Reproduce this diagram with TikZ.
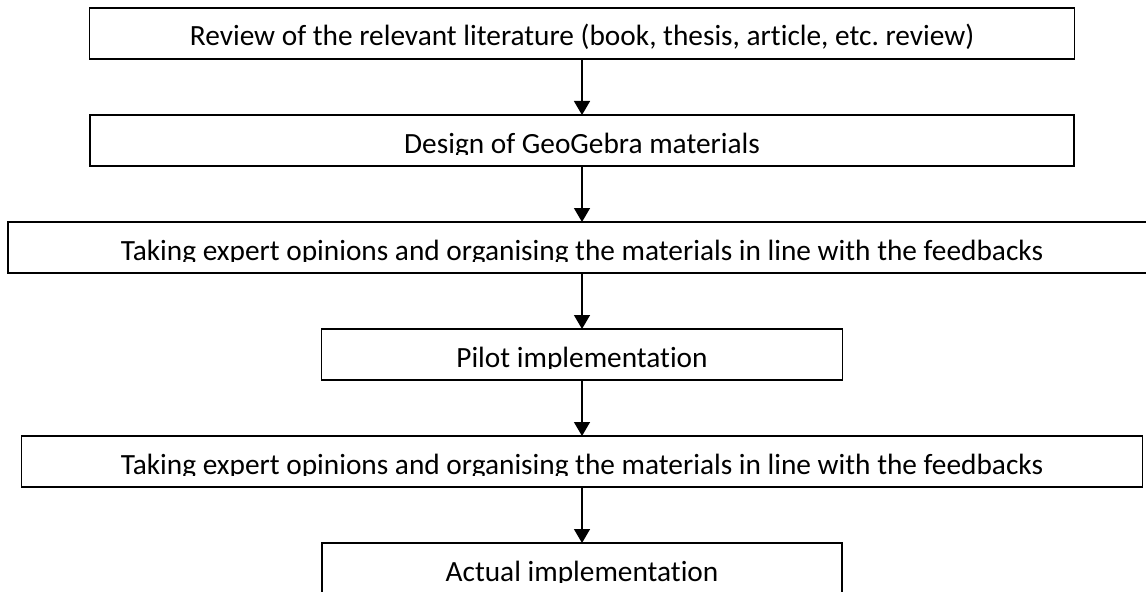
\documentclass[tikz,border=0pt]{standalone}
\usepackage{fontspec}
\setmainfont{Carlito}[Ligatures=NoCommon]
\usetikzlibrary{positioning}
\usetikzlibrary{arrows.meta}
\frenchspacing

% text sits low in its box and is cut at the baseline
\newcommand{\cuttext}[2]{%
	\begin{scope}
		\clip (#1.north west) rectangle ([yshift=-29.5pt]#1.north east);
		\node[anchor=base] (#1t) at ([yshift=-28.5pt]#1.north) {#2};
	\end{scope}}

\begin{document}
\begin{tikzpicture}[x=0.75pt,y=0.75pt,node distance=42pt,
		stage/.style={draw,line width=1.1pt,inner sep=0pt,outer sep=0pt,minimum height=38.25pt},
		>={Triangle[width=12pt,length=10.5pt]},
		font=\fontsize{22}{26}\selectfont]
			\useasboundingbox (0,0) rectangle (1146,-592);
			
			% boxes
			
			\node[stage,minimum width=738.75pt] (b1) at (582,-33.5) {};
			\node[stage,minimum width=738pt,below=of b1] (b2) {};
			\node[stage,minimum width=861pt,below=of b2] (b3) {};
			\node[stage,minimum width=390.75pt,below=of b3] (b4) {};
			\node[stage,minimum width=840.75pt,below=of b4] (b5) {};
			\node[stage,minimum width=390pt,below=of b5] (b6) {};
			
			% texts
			
			\node[anchor=base] (b1t) at ([yshift=-28.5pt]b1.north) {Review of the relevant literature (book, thesis, article, etc. review)};
			\cuttext{b2}{Design of GeoGebra materials}
			\cuttext{b3}{Taking expert opinions and organising the materials in line with the feedbacks}
			\cuttext{b4}{Pilot implementation}
			\cuttext{b5}{Taking expert opinions and organising the materials in line with the feedbacks}
			\cuttext{b6}{Actual implementation}
			
			\foreach \a/\b in {b1/b2,b2/b3,b3/b4,b4/b5,b5/b6} {
				\draw[->,line width=1.1pt] (\a) -- (\b);
			}
		\end{tikzpicture}
\end{document}
